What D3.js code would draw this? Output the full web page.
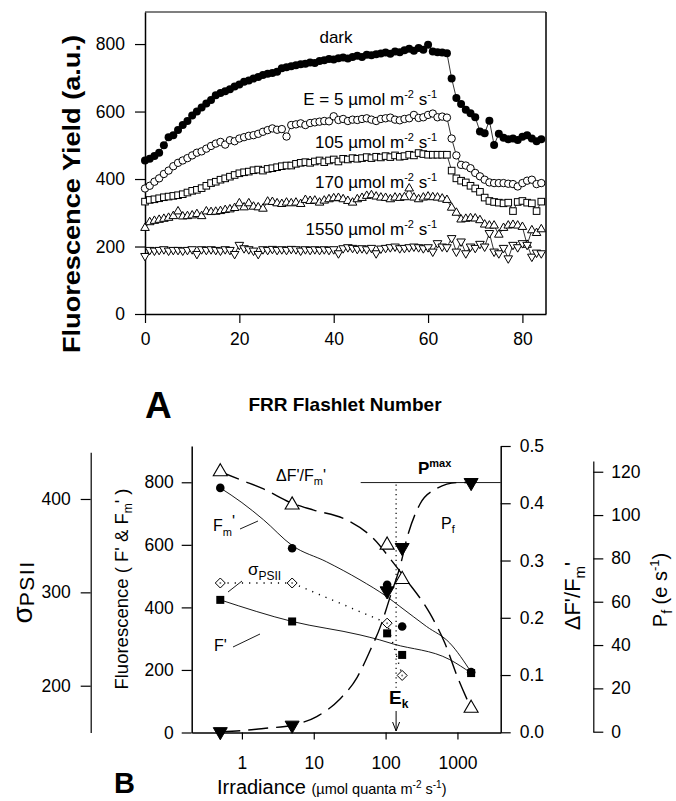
<!DOCTYPE html>
<html><head><meta charset="utf-8">
<script src="https://cdn.jsdelivr.net/npm/d3@7"></script>
<style>
body{margin:0;background:#fff}
svg{display:block}
text{font-family:"Liberation Sans",Arial,Helvetica,sans-serif;fill:#000}
</style>
</head><body>
<svg id="c" width="676" height="801"></svg>
<script>
// ---------------- Panel A data (FRR flashlet number 0..84) ----------------
const flashTicks = [0, 20, 40, 60, 80];
const yieldTicks = [0, 200, 400, 600, 800];
const darkYield = [455,460,468,478,500,524,530,545,560,572,588,600,612,624,634,648,655,660,666,674,680,688,692,698,702,708,712,714,718,728,731,734,737,740,742,745,744,750,752,756,754,758,760,757,762,765,762,768,767,770,772,775,771,778,776,782,786,780,788,783,798,778,776,775,773,698,640,622,605,595,583,541,536,573,501,534,522,518,520,516,525,530,520,512,518];
const e5Yield = [372,380,392,402,415,425,438,448,455,462,470,478,482,490,498,505,510,502,515,512,520,524,528,530,534,540,545,550,546,548,526,560,562,565,560,566,568,570,572,571,586,575,578,572,576,575,578,580,576,572,578,580,582,576,574,578,580,590,581,583,590,594,583,585,582,520,470,442,440,432,418,408,398,390,388,388,388,386,385,378,388,395,398,385,388];
const e105Yield = [333,338,340,343,346,348,350,352,355,360,365,368,373,380,388,392,398,402,407,412,417,420,422,426,428,425,430,432,435,438,440,440,445,448,450,448,452,455,450,455,458,452,460,458,462,460,462,465,462,466,464,468,465,470,466,468,472,470,477,474,472,472,472,472,472,425,402,395,390,380,372,362,345,335,332,330,328,330,305,332,335,330,328,305,333];
const e170Yield = [255,272,276,279,282,285,290,304,289,290,292,296,290,304,302,303,305,308,310,314,328,316,328,318,316,312,333,332,328,326,330,328,330,326,338,335,336,330,336,340,343,344,340,335,330,340,344,350,352,348,345,344,340,345,344,346,372,345,340,345,348,346,345,342,338,315,300,280,282,284,283,278,265,262,262,235,255,262,264,262,258,205,248,240,251];
const e1550Yield = [172,190,188,190,192,188,190,190,188,190,192,178,192,190,192,190,188,192,190,178,205,195,192,188,178,192,190,193,190,192,190,193,192,188,192,190,192,190,192,190,192,180,195,198,196,193,195,192,196,180,194,196,198,200,195,196,198,200,198,195,198,185,210,200,198,225,185,215,180,200,196,208,200,240,185,180,196,165,205,198,210,205,170,182,180];

// ---------------- Panel B data ----------------
const irradiance = [0.5, 5, 105, 170, 1550];
const fmPrime = [782, 589, 472, 339, 193];
const fPrime = [424, 355, 317, 248, 190];
const sigmaIrr = [0.5, 5, 105, 170];
const sigmaPSII = [310, 310, 267, 211];
const dfFm = [0.455, 0.397, 0.327, 0.267, 0.042];
const pfRate = [0, 3, 65, 85, 115];
// fitted curves
const fmFitIrr = [0.5, 1, 2, 5, 15, 44, 103, 158, 371, 782, 1550];
const fmFitVal = [782, 735, 680, 598, 546, 488, 435, 403, 339, 286, 193];
const fFitIrr = [0.5, 5, 44, 83, 128, 782, 1550];
const fFitVal = [424, 355, 312, 296, 283, 233, 190];
const dfFitIrr = [0.5, 1, 2, 5, 10, 28.7, 67, 130, 195, 412, 667, 1019, 1550];
const dfFitVal = [0.455, 0.44, 0.425, 0.40, 0.388, 0.371, 0.339, 0.295, 0.266, 0.208, 0.156, 0.094, 0.042];
const pfFitIrr = [0.5, 1, 2, 5, 11, 23, 40, 60, 88, 115, 158, 205, 300, 500, 1000, 1550];
const pfFitVal = [0, 0.5, 1.5, 3, 7, 15, 25, 37, 50, 62, 76, 91, 105, 112, 115, 115];
const pMax = 115;
const eK = 140;
const irrTicks = [1, 10, 100, 1000];
const fluorTicks = [0, 200, 400, 600, 800];
const dfTicks = [0, 0.1, 0.2, 0.3, 0.4, 0.5];
const sigmaTicks = [200, 300, 400];
const pfTicks = [0, 20, 40, 60, 80, 100, 120];

const svg = d3.select("#c");
svg.append("rect").attr("width", 676).attr("height", 801).attr("fill", "#fff");

function styleAxis(g, fs) {
  g.selectAll("path.domain").attr("stroke", "#000").attr("stroke-width", 1.5);
  g.selectAll(".tick line").attr("stroke", "#000").attr("stroke-width", 1.2);
  g.selectAll(".tick text").attr("font-size", fs).attr("font-family", "Liberation Sans, Arial, sans-serif").attr("fill", "#000");
}
function rich(g, x, y, parts, attrs) {
  const t = g.append("text").attr("x", x).attr("y", y);
  if (attrs) for (const k in attrs) t.attr(k, attrs[k]);
  parts.forEach(p => {
    const s = t.append("tspan").text(p.t);
    if (p.size) s.attr("font-size", p.size);
    if (p.dy) s.attr("dy", p.dy);
    if (p.weight) s.attr("font-weight", p.weight);
    if (p.ls) s.attr("letter-spacing", p.ls);
  });
  return t;
}

// ================= Panel A =================
const xA = d3.scaleLinear().domain([0, 85]).range([145, 546]);
const yA = d3.scaleLinear().domain([0, 895]).range([314, 12]);
const gA = svg.append("g");

gA.append("line").attr("x1", 145).attr("x2", 546).attr("y1", 12).attr("y2", 12).attr("stroke", "#000").attr("stroke-width", 1.2);
gA.append("line").attr("x1", 546).attr("x2", 546).attr("y1", 12).attr("y2", 314).attr("stroke", "#000").attr("stroke-width", 1.5);

const axLA = gA.append("g").attr("transform", "translate(145,0)")
  .call(d3.axisLeft(yA).tickValues(yieldTicks).tickSize(10).tickSizeOuter(0).tickPadding(10));
styleAxis(axLA, 17.5);
const axBA = gA.append("g").attr("transform", "translate(0,314)")
  .call(d3.axisBottom(xA).tickValues(flashTicks).tickSize(9).tickSizeOuter(0).tickPadding(10));
styleAxis(axBA, 17.5);

const seriesA = [
  {v: darkYield, type: "fcircle"},
  {v: e5Yield, type: "ocircle"},
  {v: e105Yield, type: "square"},
  {v: e170Yield, type: "tri"},
  {v: e1550Yield, type: "dtri"}
];
const lineA = d3.line().x((d, i) => xA(i)).y(d => yA(d));
seriesA.forEach(s => {
  gA.append("path").attr("d", lineA(s.v)).attr("fill", "none").attr("stroke", "#000").attr("stroke-width", 0.8);
});
seriesA.forEach(s => {
  const g = gA.append("g");
  s.v.forEach((d, i) => {
    const cx = xA(i), cy = yA(d);
    if (s.type === "fcircle") {
      g.append("circle").attr("cx", cx).attr("cy", cy).attr("r", 4).attr("fill", "#000");
    } else if (s.type === "ocircle") {
      g.append("circle").attr("cx", cx).attr("cy", cy).attr("r", 3.7).attr("fill", "#fff").attr("stroke", "#000").attr("stroke-width", 1);
    } else if (s.type === "square") {
      g.append("rect").attr("x", cx - 3.3).attr("y", cy - 3.3).attr("width", 6.6).attr("height", 6.6).attr("fill", "#fff").attr("stroke", "#000").attr("stroke-width", 1);
    } else {
      const sym = d3.symbol().type(d3.symbolTriangle).size(32);
      g.append("path").attr("d", sym()).attr("transform", `translate(${cx},${cy}) rotate(${s.type === "dtri" ? 180 : 0})`)
        .attr("fill", "#fff").attr("stroke", "#000").attr("stroke-width", 1);
    }
  });
});

gA.append("text").attr("x", 336).attr("y", 43).attr("text-anchor", "middle").attr("font-size", 17).text("dark");
function concLabel(x, y, pre) {
  rich(gA, x, y, [
    {t: pre, size: 17}, {t: "µ", size: 17}, {t: "mol m", size: 17},
    {t: "-2", size: 11, dy: -7}, {t: " s", size: 17, dy: 7}, {t: "-1", size: 11, dy: -7}
  ], {"text-anchor": "end"});
}
concLabel(437, 105, "E = 5 ");
concLabel(437, 148, "105 ");
concLabel(437, 188, "170 ");
concLabel(437, 235, "1550 ");

gA.append("text").attr("transform", "translate(80,194) rotate(-90)").attr("text-anchor", "middle")
  .attr("font-size", 24).attr("font-weight", "bold").attr("textLength", 318).attr("lengthAdjust", "spacingAndGlyphs")
  .text("Fluorescence Yield (a.u.)");
gA.append("text").attr("x", 345).attr("y", 411).attr("text-anchor", "middle")
  .attr("font-size", 19).attr("font-weight", "bold").text("FRR Flashlet Number");
gA.append("text").attr("x", 145).attr("y", 418).attr("font-size", 37).attr("font-weight", "bold").text("A");

// ================= Panel B =================
const xB = d3.scaleLog().domain([0.2, 4000]).range([191.7, 500.7]);
const yF = d3.scaleLinear().domain([0, 916]).range([732.5, 446]);
const yD = d3.scaleLinear().domain([0, 0.5]).range([732.3, 446]);
const yS = d3.scaleLinear().domain([150, 450]).range([732.4, 452.3]);
const yP = d3.scaleLinear().domain([0, 125]).range([731.7, 460.9]);
const gB = svg.append("g");

const axF = gB.append("g").attr("transform", "translate(191.7,0)")
  .call(d3.axisLeft(yF).tickValues(fluorTicks).tickSize(10).tickSizeOuter(0).tickPadding(8));
styleAxis(axF, 17.5);
const axX = gB.append("g").attr("transform", "translate(0,732.5)")
  .call(d3.axisBottom(xB).tickValues(irrTicks).tickFormat(d3.format("d")).tickSize(7).tickSizeOuter(0).tickPadding(17));
styleAxis(axX, 17.5);
const axD = gB.append("g").attr("transform", "translate(500.7,0)")
  .call(d3.axisRight(yD).tickValues(dfTicks).tickFormat(d3.format(".1f")).tickSize(10).tickSizeOuter(0).tickPadding(9));
styleAxis(axD, 17.5);
const axS = gB.append("g").attr("transform", "translate(90.7,0)")
  .call(d3.axisLeft(yS).tickValues(sigmaTicks).tickSize(10).tickSizeOuter(0).tickPadding(10));
styleAxis(axS, 17.5);
axS.selectAll("path.domain").attr("stroke-width", 1.2);
const axP = gB.append("g").attr("transform", "translate(593.3,0)")
  .call(d3.axisRight(yP).tickValues(pfTicks).tickSize(10).tickSizeOuter(0).tickPadding(8));
styleAxis(axP, 17.5);
axP.selectAll("path.domain").attr("stroke-width", 1.2);

gB.append("line").attr("x1", xB(45)).attr("x2", 500.7).attr("y1", yP(pMax)).attr("y2", yP(pMax)).attr("stroke", "#000").attr("stroke-width", 0.9);
gB.append("line").attr("x1", xB(eK)).attr("x2", xB(eK)).attr("y1", yP(pMax) + 2).attr("y2", 690)
  .attr("stroke", "#000").attr("stroke-width", 1.2).attr("stroke-dasharray", "1.2,3.5");
gB.append("line").attr("x1", xB(eK)).attr("x2", xB(eK)).attr("y1", 711).attr("y2", 731).attr("stroke", "#000").attr("stroke-width", 1);
gB.append("path").attr("d", `M${xB(eK) - 3.5},${722} L${xB(eK)},${731} L${xB(eK) + 3.5},${722}`).attr("fill", "none").attr("stroke", "#000").attr("stroke-width", 1);

const fitLine = (ys) => d3.line().x(d => xB(d[0])).y(d => ys(d[1])).curve(d3.curveMonotoneX);
gB.append("path").attr("d", fitLine(yF)(d3.zip(fmFitIrr, fmFitVal))).attr("fill", "none").attr("stroke", "#000").attr("stroke-width", 0.9);
gB.append("path").attr("d", fitLine(yF)(d3.zip(fFitIrr, fFitVal))).attr("fill", "none").attr("stroke", "#000").attr("stroke-width", 0.9);
gB.append("path").attr("d", fitLine(yD)(d3.zip(dfFitIrr, dfFitVal))).attr("fill", "none").attr("stroke", "#000").attr("stroke-width", 1.4).attr("stroke-dasharray", "20,8");
gB.append("path").attr("d", fitLine(yP)(d3.zip(pfFitIrr, pfFitVal))).attr("fill", "none").attr("stroke", "#000").attr("stroke-width", 1.4).attr("stroke-dasharray", "20,8");
gB.append("path").attr("d", d3.line().x(d => xB(d[0])).y(d => yS(d[1]))(d3.zip(sigmaIrr, sigmaPSII)))
  .attr("fill", "none").attr("stroke", "#000").attr("stroke-width", 1.4).attr("stroke-dasharray", "1.2,6");

irradiance.forEach((x, i) => {
  gB.append("circle").attr("cx", xB(x)).attr("cy", yF(fmPrime[i])).attr("r", 4.3).attr("fill", "#000");
  gB.append("rect").attr("x", xB(x) - 4).attr("y", yF(fPrime[i]) - 4).attr("width", 8).attr("height", 8).attr("fill", "#000");
  gB.append("path").attr("d", d3.symbol().type(d3.symbolTriangle).size(85)()).attr("transform", `translate(${xB(x)},${yD(dfFm[i])})`)
    .attr("fill", "#fff").attr("stroke", "#000").attr("stroke-width", 1.1);
  gB.append("path").attr("d", d3.symbol().type(d3.symbolTriangle).size(85)()).attr("transform", `translate(${xB(x)},${yP(pfRate[i])}) rotate(180)`)
    .attr("fill", "#000").attr("stroke", "#000").attr("stroke-width", 1);
});
sigmaIrr.forEach((x, i) => {
  const cx = xB(x), cy = yS(sigmaPSII[i]);
  gB.append("path").attr("d", `M${cx},${cy - 5} L${cx + 5},${cy} L${cx},${cy + 5} L${cx - 5},${cy} Z`).attr("fill", "#fff").attr("stroke", "#000").attr("stroke-width", 1);
  gB.append("circle").attr("cx", cx).attr("cy", cy).attr("r", 1).attr("fill", "#777");
});

rich(gB, 276, 481, [{t: "ΔF'/F", size: 16}, {t: "m", size: 11, dy: 4}, {t: "'", size: 16, dy: -4}]);
rich(gB, 418, 474, [{t: "P", size: 17, weight: "bold"}, {t: "max", size: 11, dy: -7, weight: "bold"}]);
rich(gB, 213, 531, [{t: "F", size: 16}, {t: "m", size: 11, dy: 5}, {t: "'", size: 16, dy: -9}]);
gB.append("line").attr("x1", 240).attr("y1", 529).attr("x2", 258).attr("y2", 521).attr("stroke", "#000").attr("stroke-width", 0.9);
rich(gB, 248, 575, [{t: "σ", size: 17}, {t: "PSII", size: 12, dy: 5}]);
gB.append("line").attr("x1", 228).attr("y1", 592).attr("x2", 242).attr("y2", 581).attr("stroke", "#000").attr("stroke-width", 0.9);
rich(gB, 214, 651, [{t: "F'", size: 16}]);
gB.append("line").attr("x1", 233).attr("y1", 647).attr("x2", 260).attr("y2", 634).attr("stroke", "#000").attr("stroke-width", 0.9);
rich(gB, 441, 529, [{t: "P", size: 16}, {t: "f", size: 11, dy: 4}]);
rich(gB, 389, 704, [{t: "E", size: 19, weight: "bold"}, {t: "k", size: 12, dy: 4, weight: "bold"}]);

rich(gB, 0, 0, [{t: "σ", size: 28}, {t: "PSII", size: 21, dy: 2, ls: 1.5}], {"transform": "translate(32,592) rotate(-90)", "text-anchor": "middle"});
rich(gB, 0, 0, [{t: "Fluorescence  ( F' & F", size: 18.5}, {t: "m", size: 12, dy: 4}, {t: "' )", size: 18.5, dy: -4}], {"transform": "translate(128,589) rotate(-90)", "text-anchor": "middle"});
rich(gB, 0, 0, [{t: "ΔF'/F", size: 22}, {t: "m", size: 15, dy: 5}, {t: "'", size: 22, dy: -5}], {"transform": "translate(580,596) rotate(-90)", "text-anchor": "middle"});
rich(gB, 0, 0, [{t: "P", size: 20}, {t: "f", size: 14, dy: 5}, {t: " (e s", size: 20, dy: -5}, {t: "-1", size: 13, dy: -8}, {t: ")", size: 20, dy: 8}], {"transform": "translate(667,590) rotate(-90)", "text-anchor": "middle"});
rich(gB, 217, 794, [{t: "Irradiance ", size: 20}, {t: "(µmol quanta m", size: 14.5}, {t: "-2", size: 10, dy: -6}, {t: " s", size: 14.5, dy: 6}, {t: "-1", size: 10, dy: -6}, {t: ")", size: 14.5, dy: 6}]);
gB.append("text").attr("x", 114).attr("y", 793).attr("font-size", 29).attr("font-weight", "bold").text("B");
</script>
</body></html>
